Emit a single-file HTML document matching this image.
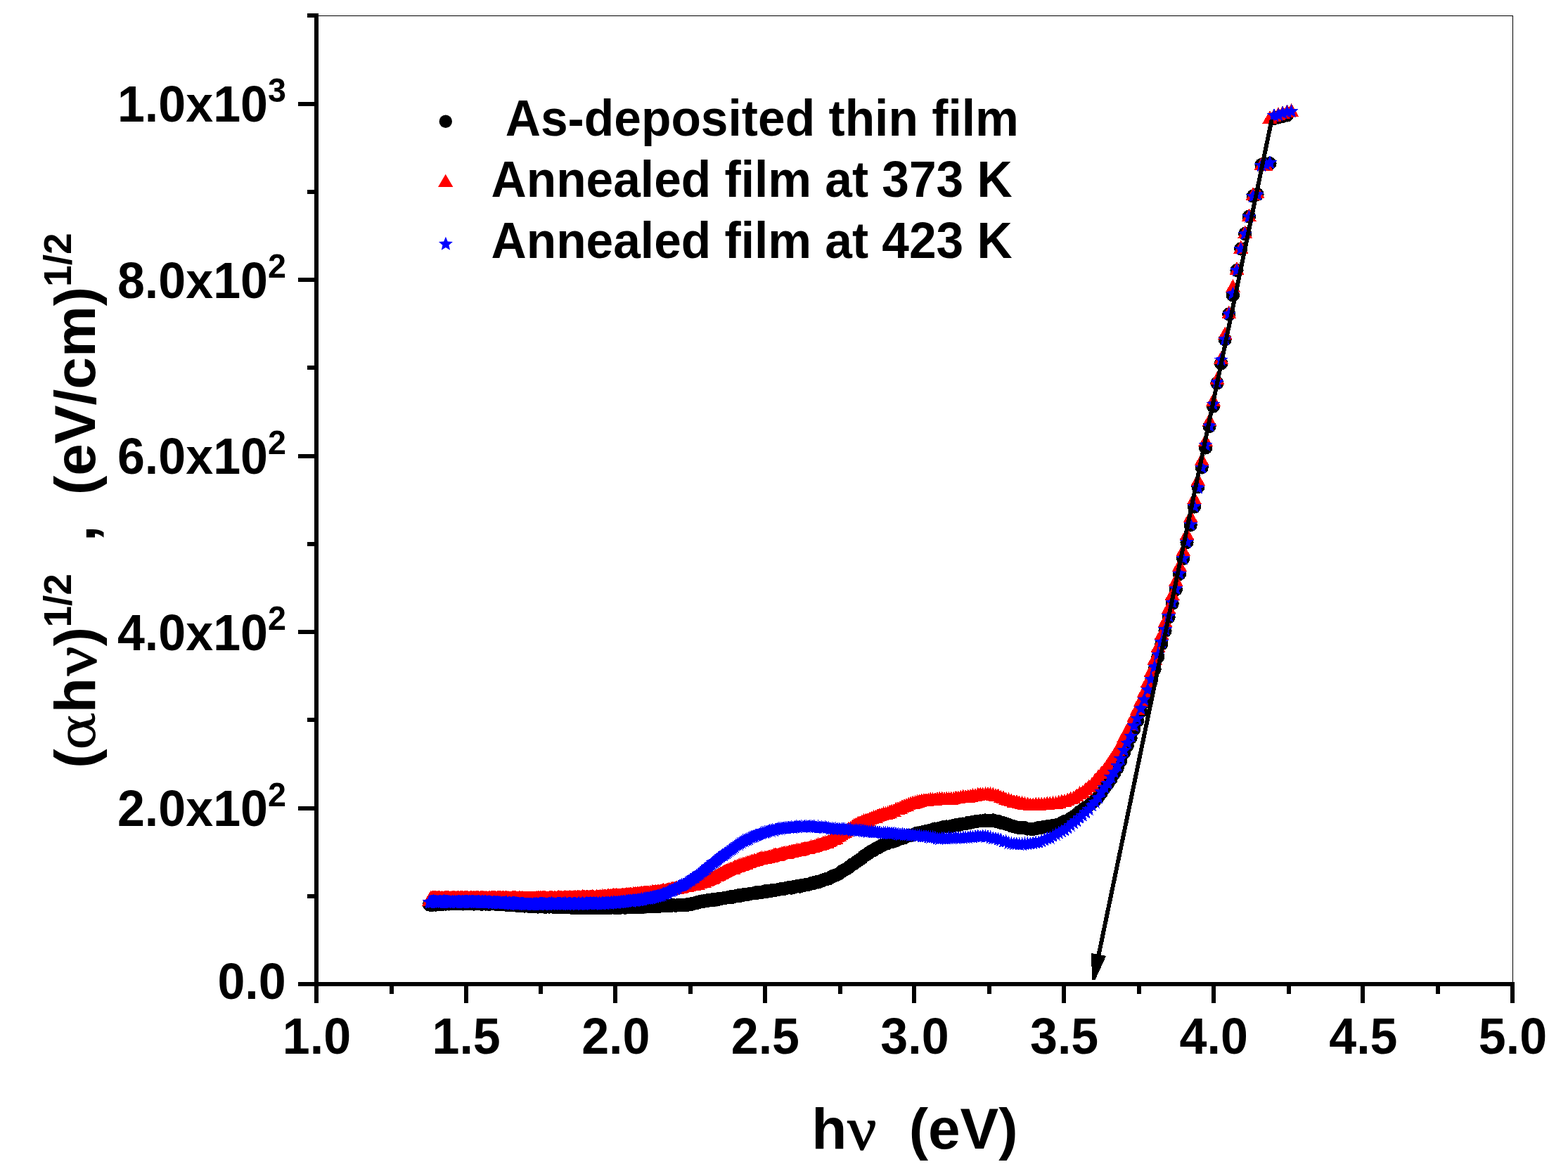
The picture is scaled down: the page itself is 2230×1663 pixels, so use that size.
<!DOCTYPE html>
<html lang="en"><head><meta charset="utf-8"><title>Tauc plot</title>
<style>html,body{margin:0;padding:0;background:#fff}svg{display:block}text{font-family:"Liberation Sans",Arial,Helvetica,sans-serif;font-weight:bold;fill:#000}.g{font-family:"DejaVu Serif","Liberation Serif",serif;font-weight:normal}.n{font-family:"Liberation Serif","DejaVu Serif",serif;font-weight:normal;stroke:#000;stroke-width:1.4px;stroke-linejoin:round}</style></head><body>
<svg width="2230" height="1663" viewBox="0 0 2230 1663">
<defs>
<marker id="mc" markerUnits="userSpaceOnUse" markerWidth="24" markerHeight="24" refX="0" refY="0" viewBox="-12 -12 24 24" overflow="visible"><circle r="9.6" fill="#000" shape-rendering="crispEdges"/></marker>
<marker id="mt" markerUnits="userSpaceOnUse" markerWidth="24" markerHeight="24" refX="0" refY="0" viewBox="-12 -12 24 24" overflow="visible"><polygon points="0,-9.4 10.6,9.4 -10.6,9.4" fill="#f00" shape-rendering="crispEdges"/></marker>
<marker id="ms" markerUnits="userSpaceOnUse" markerWidth="24" markerHeight="24" refX="0" refY="0" viewBox="-12 -12 24 24" overflow="visible"><polygon points="0.00,-10.50 2.78,-3.82 9.99,-3.24 4.49,1.46 6.17,8.49 0.00,4.73 -6.17,8.49 -4.49,1.46 -9.99,-3.24 -2.78,-3.82" fill="#00f" shape-rendering="crispEdges"/></marker>
</defs>
<rect width="2230" height="1663" fill="#fff"/>
<g shape-rendering="crispEdges">
<rect x="450" y="22" width="1702" height="1" fill="#000"/>
<rect x="2151" y="22" width="1" height="1378" fill="#000"/>
<rect x="447" y="19" width="6" height="1408" fill="#000"/>
<rect x="424" y="1397" width="1730" height="6" fill="#000"/>
<rect x="447" y="1397" width="6" height="30" fill="#000"/>
<rect x="554" y="1397" width="6" height="17" fill="#000"/>
<rect x="660" y="1397" width="6" height="30" fill="#000"/>
<rect x="766" y="1397" width="6" height="17" fill="#000"/>
<rect x="872" y="1397" width="6" height="30" fill="#000"/>
<rect x="979" y="1397" width="6" height="17" fill="#000"/>
<rect x="1085" y="1397" width="6" height="30" fill="#000"/>
<rect x="1192" y="1397" width="6" height="17" fill="#000"/>
<rect x="1297" y="1397" width="6" height="30" fill="#000"/>
<rect x="1404" y="1397" width="6" height="17" fill="#000"/>
<rect x="1510" y="1397" width="6" height="30" fill="#000"/>
<rect x="1617" y="1397" width="6" height="17" fill="#000"/>
<rect x="1723" y="1397" width="6" height="30" fill="#000"/>
<rect x="1830" y="1397" width="6" height="17" fill="#000"/>
<rect x="1935" y="1397" width="6" height="30" fill="#000"/>
<rect x="2042" y="1397" width="6" height="17" fill="#000"/>
<rect x="2148" y="1397" width="6" height="30" fill="#000"/>
<rect x="424" y="1397" width="26" height="6" fill="#000"/>
<rect x="437" y="1272" width="13" height="6" fill="#000"/>
<rect x="424" y="1147" width="26" height="6" fill="#000"/>
<rect x="437" y="1021" width="13" height="6" fill="#000"/>
<rect x="424" y="896" width="26" height="6" fill="#000"/>
<rect x="437" y="771" width="13" height="6" fill="#000"/>
<rect x="424" y="646" width="26" height="6" fill="#000"/>
<rect x="437" y="520" width="13" height="6" fill="#000"/>
<rect x="424" y="395" width="26" height="6" fill="#000"/>
<rect x="437" y="270" width="13" height="6" fill="#000"/>
<rect x="424" y="145" width="26" height="6" fill="#000"/>
<rect x="437" y="19" width="13" height="6" fill="#000"/>
</g>
<text transform="translate(450.5,1499.2) scale(1,1.035)" font-size="70" text-anchor="middle">1.0</text>
<text transform="translate(663.1,1499.2) scale(1,1.035)" font-size="70" text-anchor="middle">1.5</text>
<text transform="translate(875.8,1499.2) scale(1,1.035)" font-size="70" text-anchor="middle">2.0</text>
<text transform="translate(1088.4,1499.2) scale(1,1.035)" font-size="70" text-anchor="middle">2.5</text>
<text transform="translate(1301.0,1499.2) scale(1,1.035)" font-size="70" text-anchor="middle">3.0</text>
<text transform="translate(1513.6,1499.2) scale(1,1.035)" font-size="70" text-anchor="middle">3.5</text>
<text transform="translate(1726.2,1499.2) scale(1,1.035)" font-size="70" text-anchor="middle">4.0</text>
<text transform="translate(1938.9,1499.2) scale(1,1.035)" font-size="70" text-anchor="middle">4.5</text>
<text transform="translate(2151.5,1499.2) scale(1,1.035)" font-size="70" text-anchor="middle">5.0</text>
<text transform="translate(406.7,1421.3) scale(1,1.035)" font-size="70" text-anchor="end">0.0</text>
<text transform="translate(166.92,1175.0) scale(1,1.035)" font-size="70">2.0x10<tspan dy="-27.44" font-size="46.7">2</tspan></text>
<text transform="translate(166.92,924.5) scale(1,1.035)" font-size="70">4.0x10<tspan dy="-27.44" font-size="46.7">2</tspan></text>
<text transform="translate(166.92,674.1) scale(1,1.035)" font-size="70">6.0x10<tspan dy="-27.44" font-size="46.7">2</tspan></text>
<text transform="translate(166.92,423.6) scale(1,1.035)" font-size="70">8.0x10<tspan dy="-27.44" font-size="46.7">2</tspan></text>
<text transform="translate(166.92,173.2) scale(1,1.035)" font-size="70">1.0x10<tspan dy="-27.44" font-size="46.7">3</tspan></text>
<g fill="none" stroke="none" shape-rendering="crispEdges">
<polyline points="1830.4,164.0 1824.2,165.5 1818.1,167.0 1812.0,168.5 1806.0,232.5 1800.0,234.0 1794.0,234.5 1788.1,276.5 1782.2,279.0 1776.4,308.0 1770.6,332.5 1764.8,354.0 1759.1,384.5 1753.4,420.0 1747.8,447.0 1742.2,483.0 1736.6,517.0 1731.0,545.0 1725.5,578.0 1720.1,606.5 1714.6,637.0 1709.2,665.0 1703.9,692.4 1698.5,721.0 1693.2,747.0 1688.0,771.5 1682.7,794.5 1677.5,816.5 1672.4,838.5 1667.2,858.5 1662.1,878.0 1657.1,897.5 1652.0,916.0 1647.0,934.0 1642.1,952.0 1637.1,969.3 1632.2,984.3 1627.3,998.3 1622.5,1012.1 1617.6,1025.4 1612.8,1037.4 1608.1,1049.6 1603.3,1060.7 1598.6,1070.7 1593.9,1082.3 1589.3,1092.4 1584.6,1100.2 1580.0,1108.4 1575.5,1114.8 1570.9,1120.8 1566.4,1127.9 1561.9,1133.8 1557.4,1138.3 1553.0,1142.4 1548.6,1145.9 1544.2,1148.7 1539.8,1151.9 1535.5,1154.8 1531.2,1158.6 1526.9,1161.6 1522.6,1164.3 1518.4,1167.4 1514.1,1168.6 1509.9,1170.6 1505.8,1172.8 1501.6,1173.8 1497.5,1174.5 1493.4,1175.7 1489.3,1175.7 1485.3,1176.3 1481.2,1177.3 1477.2,1177.5 1473.2,1178.7 1469.2,1179.4 1465.3,1179.2 1461.4,1179.1 1457.5,1177.7 1453.6,1177.6 1449.7,1177.6 1445.9,1176.9 1442.1,1175.7 1438.3,1174.8 1434.5,1173.2 1430.7,1172.2 1427.0,1170.8 1423.3,1170.4 1419.6,1168.4 1415.9,1168.3 1412.2,1166.8 1408.6,1167.8 1405.0,1167.5 1401.4,1166.9 1397.8,1167.7 1394.2,1167.9 1390.7,1168.1 1387.1,1168.7 1383.6,1169.4 1380.1,1170.2 1376.7,1170.5 1373.2,1171.8 1369.8,1172.0 1366.3,1172.4 1362.9,1173.9 1359.5,1173.7 1356.2,1174.5 1352.8,1175.3 1349.5,1176.0 1346.2,1175.9 1342.9,1176.2 1339.6,1177.4 1336.3,1178.1 1333.0,1178.9 1329.8,1179.0 1326.6,1180.4 1323.4,1181.1 1320.2,1181.9 1317.0,1182.5 1313.9,1183.2 1310.7,1183.9 1307.6,1185.0 1304.5,1185.1 1301.4,1186.5 1298.3,1187.6 1295.2,1188.5 1292.2,1188.6 1289.1,1189.8 1286.1,1191.6 1283.1,1192.4 1280.1,1192.8 1277.1,1194.3 1274.1,1195.8 1271.2,1197.0 1268.2,1197.7 1265.3,1198.3 1262.4,1199.5 1259.5,1200.4 1256.6,1201.7 1253.8,1202.8 1250.9,1204.9 1248.0,1206.3 1245.2,1207.5 1242.4,1209.7 1239.6,1210.6 1236.8,1212.4 1234.0,1214.8 1231.3,1216.5 1228.5,1217.9 1225.8,1220.9 1223.0,1222.6 1220.3,1224.6 1217.6,1226.3 1214.9,1228.5 1212.2,1229.7 1209.6,1231.8 1206.9,1234.1 1204.3,1235.8 1201.6,1237.4 1199.0,1238.5 1196.4,1240.3 1193.8,1242.6 1191.2,1244.0 1188.6,1245.2 1186.1,1245.7 1183.5,1246.9 1181.0,1248.2 1178.5,1250.0 1175.9,1250.2 1173.4,1251.1 1170.9,1251.9 1168.4,1253.3 1166.0,1253.8 1163.5,1254.9 1161.0,1254.7 1158.6,1255.3 1156.2,1256.9 1153.7,1256.6 1151.3,1257.9 1148.9,1258.4 1146.5,1258.4 1144.2,1259.0 1141.8,1260.0 1139.4,1259.7 1137.1,1261.2 1134.7,1260.5 1132.4,1261.1 1130.1,1262.0 1127.8,1261.8 1125.5,1263.2 1123.2,1262.9 1120.9,1262.8 1118.6,1263.2 1116.3,1264.0 1114.1,1264.7 1111.8,1264.3 1109.6,1264.8 1107.4,1265.4 1105.2,1265.8 1103.0,1266.2 1100.8,1266.1 1098.6,1266.5 1096.4,1267.4 1094.2,1267.8 1092.0,1267.5 1089.9,1268.5 1087.7,1267.8 1085.6,1268.9 1083.5,1269.4 1081.3,1269.3 1079.2,1269.7 1077.1,1269.3 1075.0,1270.6 1072.9,1270.7 1070.9,1270.9 1068.8,1271.2 1066.7,1271.1 1064.7,1272.2 1062.6,1272.2 1060.6,1272.6 1058.6,1272.5 1056.5,1273.4 1054.5,1273.3 1052.5,1274.3 1050.5,1273.7 1048.5,1274.2 1046.5,1274.7 1044.6,1275.2 1042.6,1276.2 1040.6,1275.5 1038.7,1276.5 1036.7,1276.2 1034.8,1276.9 1032.9,1277.1 1030.9,1277.3 1029.0,1277.9 1027.1,1278.1 1025.2,1278.2 1023.3,1278.9 1021.4,1278.8 1019.5,1279.9 1017.7,1279.3 1015.8,1280.4 1013.9,1279.7 1012.1,1280.9 1010.2,1280.1 1008.4,1280.3 1006.6,1280.7 1004.8,1281.7 1002.9,1281.4 1001.1,1281.8 999.3,1282.6 997.5,1282.1 995.7,1283.1 993.9,1283.3 992.2,1283.4 990.4,1284.8 988.6,1284.6 986.9,1284.9 985.1,1285.8 983.4,1286.4 981.6,1286.0 979.9,1286.1 978.2,1287.3 976.5,1286.8 974.7,1287.1 973.0,1287.1 971.3,1287.7 969.6,1287.3 967.9,1287.8 966.3,1287.6 964.6,1287.2 962.9,1287.8 961.2,1288.3 959.6,1288.0 957.9,1287.9 956.3,1287.5 954.6,1288.4 953.0,1288.1 951.4,1288.1 949.7,1288.3 948.1,1288.4 946.5,1288.4 944.9,1288.4 943.3,1288.7 941.7,1288.3 940.1,1288.6 938.5,1288.9 936.9,1289.5 935.4,1289.1 933.8,1289.3 932.2,1289.8 930.7,1289.7 929.1,1289.7 927.6,1289.6 926.0,1289.7 924.5,1289.2 922.9,1289.2 921.4,1289.2 919.9,1289.3 918.4,1290.0 916.9,1290.0 915.4,1289.4 913.9,1290.4 912.4,1290.0 910.9,1290.1 909.4,1289.6 907.9,1290.6 906.4,1289.7 905.0,1289.9 903.5,1290.2 902.0,1290.3 900.6,1290.4 899.1,1290.9 897.7,1289.9 896.2,1290.7 894.8,1290.4 893.4,1290.9 891.9,1290.8 890.5,1291.0 889.1,1291.1 887.7,1291.0 886.3,1290.3 884.9,1290.8 883.5,1291.1 882.1,1291.2 880.7,1291.4 879.3,1290.8 877.9,1290.3 876.5,1291.2 875.1,1290.7 873.8,1291.2 872.4,1290.5 871.0,1290.9 869.7,1291.2 868.3,1290.6 867.0,1290.9 865.6,1290.7 864.3,1291.6 863.0,1291.5 861.6,1291.3 860.3,1291.2 859.0,1291.8 857.7,1290.9 856.4,1291.4 855.1,1290.7 853.7,1291.3 852.4,1290.8 851.1,1290.6 849.9,1291.7 848.6,1290.9 847.3,1291.8 846.0,1291.4 844.7,1291.4 843.4,1291.4 842.2,1291.8 840.9,1290.8 839.7,1291.7 838.4,1290.9 837.1,1290.6 835.9,1291.6 834.6,1290.6 833.4,1291.1 832.2,1291.5 830.9,1290.8 829.7,1291.3 828.5,1291.2 827.2,1291.2 826.0,1290.6 824.8,1291.2 823.6,1291.4 822.4,1290.5 821.2,1291.5 820.0,1291.4 818.8,1290.7 817.6,1291.4 816.4,1291.4 815.2,1290.4 814.0,1291.1 812.9,1291.3 811.7,1291.1 810.5,1290.3 809.3,1290.6 808.2,1290.7 807.0,1290.5 805.8,1290.5 804.7,1290.1 803.5,1290.0 802.4,1290.3 801.2,1290.4 800.1,1290.6 799.0,1291.0 797.8,1289.9 796.7,1290.2 795.6,1290.8 794.4,1290.7 793.3,1289.9 792.2,1290.5 791.1,1289.8 790.0,1290.8 788.9,1289.9 787.8,1290.3 786.7,1290.1 785.6,1290.1 784.5,1289.7 783.4,1289.9 782.3,1289.8 781.2,1290.1 780.1,1289.9 779.0,1290.0 778.0,1289.9 776.9,1290.1 775.8,1290.4 774.7,1289.8 773.7,1289.8 772.6,1289.9 771.6,1289.8 770.5,1289.6 769.4,1289.3 768.4,1289.7 767.3,1289.3 766.3,1289.7 765.3,1290.0 764.2,1289.8 763.2,1289.8 762.2,1289.1 761.1,1288.8 760.1,1289.0 759.1,1289.4 758.0,1288.8 757.0,1288.7 756.0,1289.8 755.0,1289.0 754.0,1288.6 753.0,1289.0 752.0,1289.2 751.0,1288.9 750.0,1288.4 749.0,1288.8 748.0,1288.2 747.0,1288.9 746.0,1289.1 745.0,1288.0 744.0,1288.6 743.1,1288.8 742.1,1288.5 741.1,1287.8 740.1,1287.7 739.2,1288.1 738.2,1287.5 737.2,1288.4 736.3,1287.9 735.3,1287.6 734.4,1288.1 733.4,1287.3 732.5,1287.6 731.5,1287.5 730.6,1287.0 729.6,1287.7 728.7,1287.6 727.7,1286.9 726.8,1287.1 725.9,1286.9 724.9,1287.6 724.0,1287.2 723.1,1287.4 722.2,1287.2 721.2,1287.1 720.3,1286.5 719.4,1287.1 718.5,1286.4 717.6,1286.9 716.7,1286.7 715.8,1286.4 714.9,1286.0 714.0,1286.4 713.1,1286.4 712.2,1286.4 711.3,1285.7 710.4,1285.8 709.5,1286.2 708.6,1286.5 707.7,1285.7 706.8,1286.5 705.9,1286.5 705.1,1285.4 704.2,1286.2 703.3,1285.7 702.4,1285.4 701.6,1285.5 700.7,1285.6 699.8,1285.2 699.0,1286.0 698.1,1285.7 697.3,1285.6 696.4,1286.2 695.5,1286.3 694.7,1285.7 693.8,1285.5 693.0,1285.8 692.1,1285.6 691.3,1286.1 690.5,1285.4 689.6,1285.2 688.8,1285.1 687.9,1285.2 687.1,1285.1 686.3,1286.1 685.5,1285.8 684.6,1285.7 683.8,1286.1 683.0,1285.7 682.2,1285.8 681.3,1285.1 680.5,1285.3 679.7,1285.7 678.9,1285.9 678.1,1285.3 677.3,1285.5 676.5,1285.2 675.7,1285.2 674.9,1285.6 674.1,1286.0 673.3,1286.0 672.5,1285.5 671.7,1284.9 670.9,1285.2 670.1,1285.6 669.3,1285.9 668.5,1285.0 667.7,1285.8 666.9,1285.9 666.2,1284.9 665.4,1285.9 664.6,1285.5 663.8,1285.8 663.1,1285.6 662.3,1285.6 661.5,1285.8 660.7,1285.7 660.0,1285.3 659.2,1285.2 658.5,1285.9 657.7,1285.1 656.9,1285.2 656.2,1284.9 655.4,1285.1 654.7,1285.4 653.9,1285.0 653.2,1285.2 652.4,1285.5 651.7,1285.2 650.9,1285.6 650.2,1285.3 649.4,1285.1 648.7,1285.6 648.0,1285.4 647.2,1285.3 646.5,1284.9 645.8,1285.9 645.0,1284.9 644.3,1285.2 643.6,1285.4 642.9,1285.8 642.1,1285.1 641.4,1284.8 640.7,1285.5 640.0,1285.8 639.3,1285.2 638.5,1285.9 637.8,1285.1 637.1,1285.9 636.4,1284.9 635.7,1285.7 635.0,1286.0 634.3,1285.4 633.6,1286.1 632.9,1285.9 632.2,1285.7 631.5,1285.4 630.8,1286.2 630.1,1286.0 629.4,1286.2 628.7,1285.9 628.0,1285.7 627.3,1285.9 626.6,1286.6 625.9,1286.0 625.3,1286.2 624.6,1286.6 623.9,1286.3 623.2,1286.5 622.5,1286.5 621.9,1286.9 621.2,1286.5 620.5,1286.4 619.8,1287.2 619.2,1286.3 618.5,1286.9 617.8,1286.9 617.2,1286.6 616.5,1287.1 615.8,1287.1 615.2,1286.8 614.5,1286.6 613.8,1286.4 613.2,1287.3 612.5,1287.4 611.9,1286.6 611.2,1286.7 610.6,1287.1" marker-start="url(#mc)" marker-mid="url(#mc)" marker-end="url(#mc)"/>
<polyline points="1836.6,156.4 1830.4,157.8 1824.2,159.6 1818.1,161.6 1812.0,163.6 1806.0,166.3 1800.0,233.5 1794.0,233.0 1788.1,273.0 1782.2,275.7 1776.4,305.8 1770.6,330.0 1764.8,351.3 1759.1,381.8 1753.4,406.5 1747.8,444.0 1742.2,474.0 1736.6,509.0 1731.0,538.0 1725.5,568.5 1720.1,597.0 1714.6,626.0 1709.2,653.0 1703.9,682.0 1698.5,708.0 1693.2,734.0 1688.0,759.0 1682.7,782.0 1677.5,803.5 1672.4,825.0 1667.2,844.5 1662.1,864.0 1657.1,883.0 1652.0,901.0 1647.0,918.7 1642.1,936.4 1637.1,953.7 1632.2,968.7 1627.3,982.7 1622.5,995.5 1617.6,1007.3 1612.8,1017.9 1608.1,1029.2 1603.3,1038.3 1598.6,1046.9 1593.9,1057.1 1589.3,1065.5 1584.6,1073.3 1580.0,1080.3 1575.5,1087.3 1570.9,1093.8 1566.4,1099.0 1561.9,1103.8 1557.4,1109.2 1553.0,1114.9 1548.6,1118.1 1544.2,1121.9 1539.8,1125.7 1535.5,1127.5 1531.2,1130.9 1526.9,1133.9 1522.6,1135.1 1518.4,1137.0 1514.1,1138.7 1509.9,1138.9 1505.8,1140.3 1501.6,1141.3 1497.5,1141.8 1493.4,1142.1 1489.3,1142.3 1485.3,1142.9 1481.2,1143.0 1477.2,1143.3 1473.2,1143.3 1469.2,1143.9 1465.3,1143.8 1461.4,1142.9 1457.5,1142.5 1453.6,1141.4 1449.7,1140.8 1445.9,1139.8 1442.1,1139.2 1438.3,1137.8 1434.5,1136.7 1430.7,1135.7 1427.0,1133.8 1423.3,1132.8 1419.6,1130.8 1415.9,1130.5 1412.2,1129.2 1408.6,1128.6 1405.0,1128.7 1401.4,1128.7 1397.8,1128.9 1394.2,1128.8 1390.7,1129.3 1387.1,1130.5 1383.6,1130.7 1380.1,1131.4 1376.7,1132.2 1373.2,1132.4 1369.8,1132.2 1366.3,1133.1 1362.9,1134.0 1359.5,1134.0 1356.2,1135.1 1352.8,1135.3 1349.5,1135.4 1346.2,1135.1 1342.9,1135.7 1339.6,1135.1 1336.3,1135.5 1333.0,1135.9 1329.8,1136.4 1326.6,1136.4 1323.4,1136.2 1320.2,1136.8 1317.0,1137.2 1313.9,1137.6 1310.7,1138.0 1307.6,1138.8 1304.5,1139.4 1301.4,1140.6 1298.3,1141.4 1295.2,1142.0 1292.2,1143.0 1289.1,1144.4 1286.1,1145.7 1283.1,1146.6 1280.1,1148.2 1277.1,1149.8 1274.1,1150.1 1271.2,1152.4 1268.2,1152.9 1265.3,1154.2 1262.4,1155.5 1259.5,1156.4 1256.6,1156.6 1253.8,1158.1 1250.9,1158.3 1248.0,1159.7 1245.2,1161.2 1242.4,1161.7 1239.6,1162.8 1236.8,1164.0 1234.0,1165.2 1231.3,1166.2 1228.5,1166.4 1225.8,1168.0 1223.0,1169.2 1220.3,1169.9 1217.6,1171.8 1214.9,1173.2 1212.2,1175.1 1209.6,1177.0 1206.9,1178.1 1204.3,1180.3 1201.6,1182.8 1199.0,1184.1 1196.4,1186.0 1193.8,1188.0 1191.2,1189.0 1188.6,1191.2 1186.1,1192.6 1183.5,1192.9 1181.0,1194.7 1178.5,1196.1 1175.9,1197.3 1173.4,1197.4 1170.9,1198.2 1168.4,1199.9 1166.0,1200.8 1163.5,1200.7 1161.0,1201.8 1158.6,1202.8 1156.2,1203.7 1153.7,1203.5 1151.3,1204.8 1148.9,1205.6 1146.5,1205.9 1144.2,1206.1 1141.8,1206.5 1139.4,1207.4 1137.1,1208.6 1134.7,1208.2 1132.4,1208.6 1130.1,1209.5 1127.8,1209.6 1125.5,1210.2 1123.2,1210.5 1120.9,1211.6 1118.6,1212.2 1116.3,1212.3 1114.1,1212.4 1111.8,1213.1 1109.6,1213.9 1107.4,1214.8 1105.2,1215.4 1103.0,1215.0 1100.8,1215.3 1098.6,1216.8 1096.4,1217.4 1094.2,1217.4 1092.0,1218.3 1089.9,1219.0 1087.7,1219.2 1085.6,1220.1 1083.5,1219.7 1081.3,1220.5 1079.2,1221.1 1077.1,1221.5 1075.0,1223.1 1072.9,1222.6 1070.9,1224.0 1068.8,1223.9 1066.7,1224.9 1064.7,1225.7 1062.6,1226.1 1060.6,1227.2 1058.6,1227.9 1056.5,1228.3 1054.5,1229.6 1052.5,1229.6 1050.5,1230.4 1048.5,1231.3 1046.5,1232.1 1044.6,1232.7 1042.6,1234.3 1040.6,1235.0 1038.7,1235.0 1036.7,1236.1 1034.8,1236.7 1032.9,1237.8 1030.9,1238.5 1029.0,1239.7 1027.1,1241.1 1025.2,1241.5 1023.3,1242.8 1021.4,1243.7 1019.5,1244.9 1017.7,1245.0 1015.8,1246.7 1013.9,1247.8 1012.1,1248.2 1010.2,1248.7 1008.4,1249.9 1006.6,1250.8 1004.8,1251.5 1002.9,1251.6 1001.1,1253.3 999.3,1254.0 997.5,1253.9 995.7,1254.7 993.9,1254.5 992.2,1256.2 990.4,1256.4 988.6,1256.6 986.9,1257.2 985.1,1256.9 983.4,1257.5 981.6,1257.8 979.9,1258.6 978.2,1258.3 976.5,1259.7 974.7,1259.5 973.0,1259.8 971.3,1259.7 969.6,1260.8 967.9,1261.3 966.3,1261.4 964.6,1261.2 962.9,1262.2 961.2,1261.8 959.6,1263.0 957.9,1263.1 956.3,1263.1 954.6,1263.7 953.0,1264.2 951.4,1264.1 949.7,1265.2 948.1,1265.0 946.5,1265.9 944.9,1266.1 943.3,1265.5 941.7,1266.4 940.1,1266.2 938.5,1267.0 936.9,1267.0 935.4,1267.1 933.8,1267.8 932.2,1267.0 930.7,1267.8 929.1,1267.7 927.6,1267.5 926.0,1268.6 924.5,1268.5 922.9,1269.1 921.4,1268.9 919.9,1268.7 918.4,1269.7 916.9,1268.8 915.4,1268.9 913.9,1269.8 912.4,1269.5 910.9,1269.7 909.4,1270.4 907.9,1269.9 906.4,1270.7 905.0,1270.6 903.5,1270.3 902.0,1270.1 900.6,1270.5 899.1,1271.5 897.7,1271.0 896.2,1270.8 894.8,1271.1 893.4,1272.0 891.9,1271.2 890.5,1272.1 889.1,1271.4 887.7,1272.6 886.3,1272.2 884.9,1271.7 883.5,1272.9 882.1,1272.3 880.7,1272.9 879.3,1272.8 877.9,1272.3 876.5,1272.5 875.1,1272.6 873.8,1272.8 872.4,1272.7 871.0,1272.8 869.7,1274.0 868.3,1273.1 867.0,1273.7 865.6,1273.3 864.3,1273.5 863.0,1274.2 861.6,1274.5 860.3,1274.0 859.0,1273.5 857.7,1274.8 856.4,1273.7 855.1,1274.2 853.7,1274.4 852.4,1274.9 851.1,1274.8 849.9,1274.6 848.6,1274.4 847.3,1275.0 846.0,1275.1 844.7,1275.1 843.4,1275.0 842.2,1274.3 840.9,1274.6 839.7,1274.8 838.4,1274.9 837.1,1275.3 835.9,1274.7 834.6,1275.2 833.4,1274.9 832.2,1275.4 830.9,1274.8 829.7,1275.1 828.5,1274.7 827.2,1274.9 826.0,1275.8 824.8,1275.1 823.6,1275.8 822.4,1275.4 821.2,1274.9 820.0,1275.8 818.8,1275.0 817.6,1275.9 816.4,1275.0 815.2,1275.8 814.0,1275.2 812.9,1275.5 811.7,1276.2 810.5,1275.7 809.3,1275.9 808.2,1276.1 807.0,1275.3 805.8,1276.2 804.7,1276.4 803.5,1275.5 802.4,1276.0 801.2,1275.7 800.1,1276.3 799.0,1275.4 797.8,1276.0 796.7,1276.4 795.6,1276.3 794.4,1275.6 793.3,1276.5 792.2,1275.8 791.1,1276.5 790.0,1276.2 788.9,1275.8 787.8,1276.5 786.7,1276.6 785.6,1276.5 784.5,1276.8 783.4,1276.0 782.3,1275.9 781.2,1275.9 780.1,1276.3 779.0,1276.2 778.0,1276.1 776.9,1276.3 775.8,1276.1 774.7,1275.8 773.7,1276.3 772.6,1276.1 771.6,1276.3 770.5,1276.9 769.4,1276.0 768.4,1276.5 767.3,1276.6 766.3,1276.1 765.3,1276.4 764.2,1277.0 763.2,1276.2 762.2,1276.7 761.1,1276.8 760.1,1276.2 759.1,1277.0 758.0,1276.6 757.0,1276.4 756.0,1276.7 755.0,1276.3 754.0,1276.7 753.0,1276.1 752.0,1276.9 751.0,1276.5 750.0,1276.1 749.0,1276.3 748.0,1276.9 747.0,1276.8 746.0,1276.4 745.0,1276.2 744.0,1276.3 743.1,1277.0 742.1,1275.9 741.1,1276.9 740.1,1276.8 739.2,1276.1 738.2,1276.2 737.2,1276.5 736.3,1276.8 735.3,1276.9 734.4,1277.0 733.4,1276.1 732.5,1276.0 731.5,1276.4 730.6,1276.5 729.6,1276.6 728.7,1275.9 727.7,1276.6 726.8,1276.9 725.9,1276.9 724.9,1276.9 724.0,1276.9 723.1,1277.0 722.2,1275.9 721.2,1276.9 720.3,1276.1 719.4,1276.2 718.5,1276.4 717.6,1276.9 716.7,1276.5 715.8,1276.2 714.9,1276.2 714.0,1276.9 713.1,1276.8 712.2,1276.0 711.3,1276.1 710.4,1276.2 709.5,1276.1 708.6,1276.5 707.7,1276.1 706.8,1276.5 705.9,1276.9 705.1,1276.8 704.2,1275.9 703.3,1276.0 702.4,1276.3 701.6,1276.6 700.7,1276.3 699.8,1276.1 699.0,1276.2 698.1,1276.0 697.3,1276.8 696.4,1276.6 695.5,1276.3 694.7,1276.6 693.8,1276.4 693.0,1276.4 692.1,1276.2 691.3,1276.4 690.5,1277.0 689.6,1276.7 688.8,1276.8 687.9,1275.9 687.1,1276.4 686.3,1276.2 685.5,1275.9 684.6,1276.3 683.8,1275.9 683.0,1276.1 682.2,1276.8 681.3,1276.6 680.5,1276.6 679.7,1275.9 678.9,1276.0 678.1,1275.8 677.3,1275.9 676.5,1275.9 675.7,1277.0 674.9,1276.9 674.1,1276.0 673.3,1276.1 672.5,1277.0 671.7,1276.5 670.9,1276.2 670.1,1276.4 669.3,1276.1 668.5,1276.5 667.7,1276.7 666.9,1276.4 666.2,1276.8 665.4,1275.9 664.6,1276.5 663.8,1277.0 663.1,1276.0 662.3,1276.4 661.5,1276.6 660.7,1276.2 660.0,1277.0 659.2,1276.4 658.5,1276.4 657.7,1276.9 656.9,1275.8 656.2,1276.8 655.4,1276.0 654.7,1276.3 653.9,1276.4 653.2,1276.4 652.4,1275.9 651.7,1276.2 650.9,1276.2 650.2,1277.0 649.4,1276.9 648.7,1276.5 648.0,1276.9 647.2,1276.9 646.5,1276.3 645.8,1276.0 645.0,1276.5 644.3,1276.2 643.6,1275.8 642.9,1277.0 642.1,1277.0 641.4,1276.5 640.7,1276.6 640.0,1276.6 639.3,1276.9 638.5,1276.4 637.8,1276.5 637.1,1276.1 636.4,1276.1 635.7,1276.5 635.0,1276.1 634.3,1275.9 633.6,1276.3 632.9,1276.8 632.2,1276.2 631.5,1276.9 630.8,1276.7 630.1,1276.7 629.4,1276.9 628.7,1276.0 628.0,1276.1 627.3,1277.0 626.6,1277.0 625.9,1276.0 625.3,1276.8 624.6,1275.9 623.9,1276.1 623.2,1276.0 622.5,1276.3 621.9,1276.4 621.2,1277.0 620.5,1276.5 619.8,1276.1 619.2,1276.3 618.5,1276.0 617.8,1276.0 617.2,1276.5 616.5,1276.6 615.8,1276.3 615.2,1276.4 614.5,1276.1 613.8,1276.8 613.2,1276.5 612.5,1276.2 611.9,1277.3 611.2,1278.2 610.6,1279.4" marker-start="url(#mt)" marker-mid="url(#mt)" marker-end="url(#mt)"/>
<polyline points="1836.6,158.6 1830.4,159.5 1824.2,161.0 1818.1,163.6 1812.0,164.5 1806.0,231.7 1800.0,234.0 1794.0,235.5 1788.1,277.0 1782.2,279.5 1776.4,308.8 1770.6,333.0 1764.8,354.3 1759.1,384.8 1753.4,418.0 1747.8,447.0 1742.2,483.0 1736.6,512.0 1731.0,544.0 1725.5,575.0 1720.1,606.0 1714.6,633.0 1709.2,665.2 1703.9,694.0 1698.5,720.4 1693.2,746.4 1688.0,771.4 1682.7,794.5 1677.5,816.1 1672.4,837.6 1667.2,857.1 1662.1,876.6 1657.1,895.6 1652.0,913.6 1647.0,931.3 1642.1,949.0 1637.1,966.3 1632.2,981.3 1627.3,995.3 1622.5,1008.0 1617.6,1022.4 1612.8,1032.7 1608.1,1047.4 1603.3,1057.1 1598.6,1067.8 1593.9,1079.4 1589.3,1089.8 1584.6,1098.7 1580.0,1105.5 1575.5,1114.6 1570.9,1120.5 1566.4,1126.6 1561.9,1135.0 1557.4,1141.2 1553.0,1146.0 1548.6,1151.5 1544.2,1155.8 1539.8,1160.2 1535.5,1163.7 1531.2,1167.6 1526.9,1170.8 1522.6,1174.2 1518.4,1177.8 1514.1,1180.9 1509.9,1182.6 1505.8,1185.0 1501.6,1187.2 1497.5,1189.7 1493.4,1192.1 1489.3,1193.1 1485.3,1195.0 1481.2,1196.6 1477.2,1198.5 1473.2,1198.9 1469.2,1199.7 1465.3,1200.6 1461.4,1200.7 1457.5,1200.9 1453.6,1201.6 1449.7,1201.5 1445.9,1200.6 1442.1,1200.7 1438.3,1200.2 1434.5,1199.4 1430.7,1197.4 1427.0,1197.3 1423.3,1195.0 1419.6,1194.4 1415.9,1193.1 1412.2,1192.7 1408.6,1191.7 1405.0,1190.4 1401.4,1190.6 1397.8,1189.8 1394.2,1190.4 1390.7,1189.6 1387.1,1190.2 1383.6,1191.0 1380.1,1190.8 1376.7,1191.7 1373.2,1191.9 1369.8,1192.2 1366.3,1192.6 1362.9,1192.3 1359.5,1192.2 1356.2,1192.5 1352.8,1192.8 1349.5,1192.6 1346.2,1193.5 1342.9,1192.8 1339.6,1192.8 1336.3,1193.6 1333.0,1193.1 1329.8,1192.0 1326.6,1191.6 1323.4,1191.7 1320.2,1191.1 1317.0,1190.3 1313.9,1190.2 1310.7,1190.3 1307.6,1189.0 1304.5,1189.8 1301.4,1189.0 1298.3,1188.2 1295.2,1188.6 1292.2,1187.5 1289.1,1187.6 1286.1,1187.5 1283.1,1186.9 1280.1,1187.4 1277.1,1187.0 1274.1,1186.1 1271.2,1185.9 1268.2,1185.6 1265.3,1186.0 1262.4,1185.3 1259.5,1185.6 1256.6,1185.7 1253.8,1185.5 1250.9,1184.4 1248.0,1184.4 1245.2,1184.2 1242.4,1183.9 1239.6,1183.7 1236.8,1183.4 1234.0,1183.5 1231.3,1182.7 1228.5,1182.4 1225.8,1182.2 1223.0,1181.6 1220.3,1181.9 1217.6,1181.4 1214.9,1181.8 1212.2,1181.4 1209.6,1180.5 1206.9,1180.3 1204.3,1180.7 1201.6,1180.2 1199.0,1179.4 1196.4,1179.9 1193.8,1179.4 1191.2,1179.7 1188.6,1179.5 1186.1,1179.5 1183.5,1179.0 1181.0,1179.1 1178.5,1178.1 1175.9,1177.9 1173.4,1177.3 1170.9,1178.0 1168.4,1176.9 1166.0,1177.1 1163.5,1176.8 1161.0,1177.0 1158.6,1176.4 1156.2,1176.1 1153.7,1176.3 1151.3,1175.9 1148.9,1176.1 1146.5,1176.5 1144.2,1175.8 1141.8,1176.9 1139.4,1176.4 1137.1,1176.2 1134.7,1176.9 1132.4,1176.3 1130.1,1176.7 1127.8,1177.6 1125.5,1177.0 1123.2,1177.8 1120.9,1177.2 1118.6,1178.0 1116.3,1178.4 1114.1,1178.2 1111.8,1178.7 1109.6,1179.3 1107.4,1179.7 1105.2,1179.5 1103.0,1180.2 1100.8,1181.4 1098.6,1181.1 1096.4,1182.2 1094.2,1182.0 1092.0,1182.9 1089.9,1183.6 1087.7,1184.3 1085.6,1185.1 1083.5,1185.9 1081.3,1186.5 1079.2,1187.4 1077.1,1188.3 1075.0,1188.5 1072.9,1189.9 1070.9,1190.4 1068.8,1191.0 1066.7,1191.8 1064.7,1193.5 1062.6,1194.4 1060.6,1194.8 1058.6,1196.5 1056.5,1196.9 1054.5,1198.5 1052.5,1199.9 1050.5,1201.2 1048.5,1201.8 1046.5,1203.0 1044.6,1204.9 1042.6,1206.6 1040.6,1208.0 1038.7,1208.9 1036.7,1210.6 1034.8,1212.1 1032.9,1213.8 1030.9,1214.7 1029.0,1216.6 1027.1,1217.4 1025.2,1218.8 1023.3,1220.3 1021.4,1222.3 1019.5,1224.0 1017.7,1225.0 1015.8,1226.7 1013.9,1227.5 1012.1,1229.4 1010.2,1230.8 1008.4,1232.3 1006.6,1233.5 1004.8,1235.5 1002.9,1237.0 1001.1,1238.4 999.3,1240.0 997.5,1241.0 995.7,1242.8 993.9,1243.8 992.2,1245.5 990.4,1246.3 988.6,1247.9 986.9,1248.5 985.1,1249.6 983.4,1251.9 981.6,1252.4 979.9,1253.1 978.2,1254.9 976.5,1256.3 974.7,1257.1 973.0,1258.4 971.3,1259.3 969.6,1259.6 967.9,1260.3 966.3,1261.0 964.6,1262.1 962.9,1263.4 961.2,1264.6 959.6,1264.3 957.9,1266.1 956.3,1266.9 954.6,1267.7 953.0,1267.8 951.4,1268.6 949.7,1270.2 948.1,1270.8 946.5,1271.1 944.9,1271.7 943.3,1271.9 941.7,1273.6 940.1,1273.9 938.5,1274.5 936.9,1274.8 935.4,1274.8 933.8,1275.7 932.2,1275.4 930.7,1276.3 929.1,1276.2 927.6,1276.8 926.0,1277.7 924.5,1277.5 922.9,1278.5 921.4,1278.4 919.9,1278.4 918.4,1278.6 916.9,1278.6 915.4,1279.6 913.9,1280.2 912.4,1279.7 910.9,1280.2 909.4,1281.0 907.9,1280.5 906.4,1281.4 905.0,1281.4 903.5,1281.2 902.0,1281.6 900.6,1281.1 899.1,1281.8 897.7,1282.3 896.2,1281.8 894.8,1281.8 893.4,1281.9 891.9,1282.3 890.5,1282.5 889.1,1283.4 887.7,1283.1 886.3,1283.3 884.9,1283.2 883.5,1283.4 882.1,1283.8 880.7,1284.2 879.3,1283.6 877.9,1284.1 876.5,1284.4 875.1,1284.9 873.8,1284.2 872.4,1284.5 871.0,1284.8 869.7,1284.4 868.3,1285.0 867.0,1285.6 865.6,1284.8 864.3,1285.1 863.0,1284.8 861.6,1285.3 860.3,1285.9 859.0,1285.5 857.7,1285.1 856.4,1285.3 855.1,1285.7 853.7,1286.0 852.4,1285.5 851.1,1285.6 849.9,1286.0 848.6,1285.2 847.3,1286.2 846.0,1285.7 844.7,1285.5 843.4,1286.1 842.2,1285.5 840.9,1285.4 839.7,1285.5 838.4,1286.0 837.1,1285.4 835.9,1285.8 834.6,1285.6 833.4,1285.9 832.2,1285.5 830.9,1286.3 829.7,1286.5 828.5,1285.7 827.2,1285.8 826.0,1286.1 824.8,1286.3 823.6,1285.5 822.4,1286.2 821.2,1286.4 820.0,1286.4 818.8,1286.0 817.6,1286.5 816.4,1286.2 815.2,1285.7 814.0,1285.9 812.9,1286.3 811.7,1286.2 810.5,1286.5 809.3,1286.4 808.2,1285.8 807.0,1286.1 805.8,1286.5 804.7,1286.2 803.5,1285.9 802.4,1286.8 801.2,1286.2 800.1,1286.0 799.0,1286.3 797.8,1286.0 796.7,1286.0 795.6,1286.5 794.4,1286.6 793.3,1286.2 792.2,1285.9 791.1,1286.3 790.0,1286.2 788.9,1286.2 787.8,1286.0 786.7,1286.7 785.6,1286.0 784.5,1285.8 783.4,1286.6 782.3,1286.6 781.2,1286.0 780.1,1286.0 779.0,1286.5 778.0,1286.9 776.9,1286.1 775.8,1286.4 774.7,1286.1 773.7,1286.7 772.6,1286.3 771.6,1286.2 770.5,1286.6 769.4,1286.4 768.4,1286.0 767.3,1286.3 766.3,1286.9 765.3,1286.8 764.2,1286.4 763.2,1286.6 762.2,1286.0 761.1,1286.3 760.1,1286.9 759.1,1286.0 758.0,1287.0 757.0,1286.8 756.0,1286.6 755.0,1286.2 754.0,1285.9 753.0,1286.1 752.0,1286.6 751.0,1286.2 750.0,1286.6 749.0,1285.9 748.0,1286.6 747.0,1286.6 746.0,1286.4 745.0,1285.8 744.0,1285.8 743.1,1285.6 742.1,1285.5 741.1,1286.3 740.1,1286.0 739.2,1286.3 738.2,1285.7 737.2,1285.7 736.3,1286.3 735.3,1286.4 734.4,1285.3 733.4,1286.1 732.5,1285.7 731.5,1285.0 730.6,1285.7 729.6,1285.3 728.7,1285.3 727.7,1286.0 726.8,1285.7 725.9,1284.9 724.9,1285.6 724.0,1284.7 723.1,1285.7 722.2,1285.3 721.2,1285.3 720.3,1284.5 719.4,1284.6 718.5,1285.1 717.6,1284.8 716.7,1285.3 715.8,1284.6 714.9,1284.7 714.0,1284.4 713.1,1284.8 712.2,1285.3 711.3,1284.4 710.4,1285.0 709.5,1284.2 708.6,1285.0 707.7,1284.5 706.8,1284.0 705.9,1284.8 705.1,1284.8 704.2,1283.9 703.3,1283.8 702.4,1284.0 701.6,1284.2 700.7,1284.7 699.8,1284.6 699.0,1283.9 698.1,1283.5 697.3,1284.2 696.4,1284.1 695.5,1283.7 694.7,1284.1 693.8,1284.5 693.0,1283.4 692.1,1283.6 691.3,1284.2 690.5,1283.4 689.6,1283.3 688.8,1283.3 687.9,1284.0 687.1,1283.2 686.3,1283.2 685.5,1283.8 684.6,1283.9 683.8,1283.9 683.0,1283.5 682.2,1284.0 681.3,1283.1 680.5,1283.4 679.7,1283.3 678.9,1283.5 678.1,1283.1 677.3,1283.0 676.5,1284.0 675.7,1283.2 674.9,1283.4 674.1,1283.9 673.3,1283.2 672.5,1283.2 671.7,1283.5 670.9,1282.9 670.1,1282.8 669.3,1283.6 668.5,1283.2 667.7,1282.9 666.9,1283.1 666.2,1283.6 665.4,1283.7 664.6,1283.4 663.8,1283.1 663.1,1283.8 662.3,1283.0 661.5,1283.7 660.7,1283.0 660.0,1283.9 659.2,1283.7 658.5,1283.4 657.7,1283.3 656.9,1283.5 656.2,1283.6 655.4,1283.5 654.7,1283.6 653.9,1282.9 653.2,1283.3 652.4,1283.7 651.7,1283.3 650.9,1284.0 650.2,1283.4 649.4,1283.2 648.7,1283.9 648.0,1283.3 647.2,1283.5 646.5,1283.6 645.8,1283.8 645.0,1283.1 644.3,1283.8 643.6,1283.5 642.9,1283.2 642.1,1283.2 641.4,1284.0 640.7,1283.9 640.0,1283.5 639.3,1283.2 638.5,1284.0 637.8,1282.8 637.1,1282.9 636.4,1283.4 635.7,1283.5 635.0,1282.8 634.3,1283.0 633.6,1282.9 632.9,1283.1 632.2,1283.0 631.5,1282.9 630.8,1283.0 630.1,1283.2 629.4,1283.0 628.7,1283.7 628.0,1283.3 627.3,1282.9 626.6,1283.6 625.9,1283.7 625.3,1283.2 624.6,1282.8 623.9,1283.6 623.2,1283.7 622.5,1283.9 621.9,1283.7 621.2,1283.5 620.5,1283.2 619.8,1283.1 619.2,1282.9 618.5,1283.8 617.8,1283.5 617.2,1283.1 616.5,1282.9 615.8,1283.1 615.2,1283.7 614.5,1283.1 613.8,1282.9 613.2,1283.3 612.5,1283.2 611.9,1283.6 611.2,1283.5 610.6,1283.4" marker-start="url(#ms)" marker-mid="url(#ms)" marker-end="url(#ms)"/>
</g>
<line x1="1808.7" y1="170" x2="1562" y2="1361" stroke="#000" stroke-width="6" shape-rendering="crispEdges"/>
<polygon points="1552,1355.9 1573.1,1360 1557.3,1394.4 1553,1394.2" fill="#000" shape-rendering="crispEdges"/>
<circle cx="633.8" cy="172.8" r="9.2" fill="#000"/>
<polygon points="633.7,247.8 644.4,265.9 623,265.9" fill="#f00"/>
<polygon points="0.00,-10.50 2.78,-3.82 9.99,-3.24 4.49,1.46 6.17,8.49 0.00,4.73 -6.17,8.49 -4.49,1.46 -9.99,-3.24 -2.78,-3.82" fill="#00f" transform="translate(633.9,347.2)"/>
<text transform="translate(718.7,193.2) scale(0.9935,1.03)" font-size="70">As-deposited thin film</text>
<text transform="translate(698.6,280) scale(0.9925,1.03)" font-size="70">Annealed film at 373 K</text>
<text transform="translate(698.6,367) scale(0.9925,1.03)" font-size="70">Annealed film at 423 K</text>
<text font-size="82" y="1634.3"><tspan x="1154.3">h</tspan><tspan class="n" x="1205.3" y="1634.6" font-size="86" textLength="41.2" lengthAdjust="spacingAndGlyphs">ν</tspan><tspan> </tspan><tspan x="1292.7" y="1634.3">(eV)</tspan></text>
<g transform="translate(135,0) rotate(-90)">
<text font-size="82"><tspan x="-1092.8" y="0">(</tspan><tspan class="g" x="-1067.3" y="0" font-size="73.4" textLength="54.3" lengthAdjust="spacingAndGlyphs">α</tspan><tspan x="-1014.2" y="0">h</tspan><tspan class="n" x="-961.2" y="0.5" font-size="86" textLength="41.6" lengthAdjust="spacingAndGlyphs">ν</tspan><tspan x="-919.2" y="0">)</tspan><tspan x="-892.5" y="-34.4" font-size="55">1/2</tspan><tspan> </tspan><tspan x="-770.3" y="0">,</tspan><tspan> </tspan><tspan x="-704.1" y="0">(eV/cm)</tspan><tspan x="-407.9" y="-34.4" font-size="55">1/2</tspan></text>
</g>
</svg></body></html>
